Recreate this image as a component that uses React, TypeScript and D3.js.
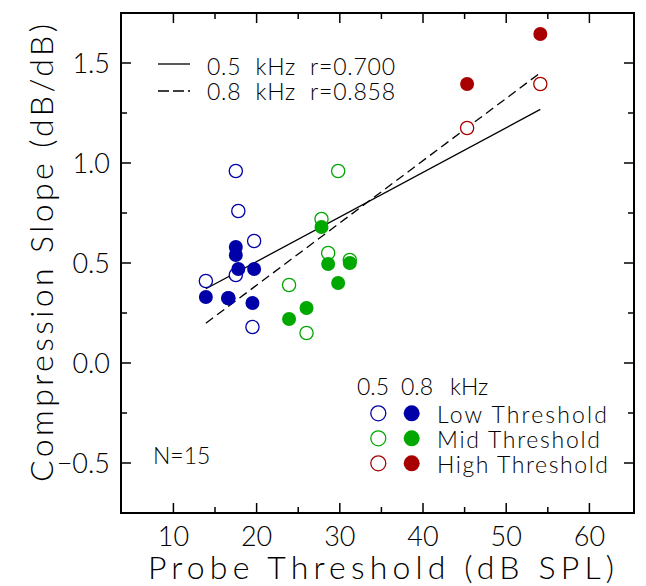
import React from "react";
import * as d3 from "d3";

// ---- data ----
const xTicks = [10, 20, 30, 40, 50, 60];
const xMinor = [15, 25, 35, 45, 55];
const yTicks = [-0.5, 0, 0.5, 1.0, 1.5];
const yMinor = [-0.25, 0.25, 0.75, 1.25];

// Low threshold group: probe threshold, slope at 0.5 kHz, slope at 0.8 kHz
const lowX = [13.9, 16.6, 17.5, 17.5, 17.8, 19.5, 19.7];
const low05 = [0.41, 0.324, 0.96, 0.44, 0.76, 0.18, 0.61];
const low08 = [0.33, 0.324, 0.58, 0.54, 0.47, 0.30, 0.47];

const midX = [23.9, 26.0, 27.8, 28.6, 29.8, 31.2];
const mid05 = [0.39, 0.15, 0.72, 0.55, 0.96, 0.515];
const mid08 = [0.22, 0.275, 0.68, 0.495, 0.40, 0.50];

const highX = [45.3, 54.1];
const high05 = [1.175, 1.395];
const high08 = [1.395, 1.645];

// regression lines (endpoints)
const fitX = [13.9, 54.1];
const fit05 = [0.371, 1.268];
const fit08 = [0.199, 1.451];

const legendLines = ["0.5  kHz  r=0.700", "0.8  kHz  r=0.858"];
const groupNames = ["Low Threshold", "Mid Threshold", "High Threshold"];
const groupTextLen = [170, 163, 171];
const groupColors = ["#0000a8", "#00a800", "#a80000"];

const W = 646;
const H = 586;
const FONT = "Lato, 'DejaVu Sans', sans-serif";

export default function App() {
  const left = 121, right = 634, top = 13, bottom = 513;
  const x = d3.scaleLinear().domain([3.7, 65.36]).range([left, right]);
  const y = d3.scaleLinear().domain([-0.75, 1.75]).range([bottom, top]);
  const line = d3
    .line<[number, number]>()
    .x((d) => x(d[0]))
    .y((d) => y(d[1]));

  const groups = [
    { xs: lowX, a: low05, b: low08, c: groupColors[0] },
    { xs: midX, a: mid05, b: mid08, c: groupColors[1] },
    { xs: highX, a: high05, b: high08, c: groupColors[2] },
  ];
  const r = 6.6;
  const majorLen = 10, minorLen = 6;

  return (
    <svg width={W} height={H} style={{ position: "absolute", left: 0, top: 0, background: "#fff" }}
      fontFamily={FONT}>
      <rect x={0} y={0} width={W} height={H} fill="#fff" />
      {/* ticks */}
      {xTicks.map((t) => (
        <g key={"xt" + t}>
          <line x1={x(t)} x2={x(t)} y1={bottom} y2={bottom - majorLen} stroke="#000" strokeWidth={1.5} />
          <line x1={x(t)} x2={x(t)} y1={top} y2={top + majorLen} stroke="#000" strokeWidth={1.5} />
          <text x={x(t)} y={546} fontSize={27} textAnchor="middle" fontWeight={300}>{t}</text>
        </g>
      ))}
      {xMinor.map((t) => (
        <g key={"xm" + t}>
          <line x1={x(t)} x2={x(t)} y1={bottom} y2={bottom - minorLen} stroke="#000" strokeWidth={1.5} />
          <line x1={x(t)} x2={x(t)} y1={top} y2={top + minorLen} stroke="#000" strokeWidth={1.5} />
        </g>
      ))}
      {yTicks.map((t) => (
        <g key={"yt" + t}>
          <line x1={left} x2={left + majorLen} y1={y(t)} y2={y(t)} stroke="#000" strokeWidth={1.5} />
          <line x1={right} x2={right - majorLen} y1={y(t)} y2={y(t)} stroke="#000" strokeWidth={1.5} />
          <text x={110} y={y(t) + 10} fontSize={27} textAnchor="end" fontWeight={300}>
            {t < 0 ? "\u2212" + Math.abs(t).toFixed(1) : t.toFixed(1)}
          </text>
        </g>
      ))}
      {yMinor.map((t) => (
        <g key={"ym" + t}>
          <line x1={left} x2={left + minorLen} y1={y(t)} y2={y(t)} stroke="#000" strokeWidth={1.5} />
          <line x1={right} x2={right - minorLen} y1={y(t)} y2={y(t)} stroke="#000" strokeWidth={1.5} />
        </g>
      ))}
      {/* frame */}
      <rect x={left} y={top} width={right - left} height={bottom - top} fill="none" stroke="#000" strokeWidth={2} />

      {/* regression lines */}
      <path d={line(fitX.map((v, i) => [v, fit05[i]] as [number, number])) || ""} fill="none" stroke="#000" strokeWidth={1.3} />
      <path d={line(fitX.map((v, i) => [v, fit08[i]] as [number, number])) || ""} fill="none" stroke="#000" strokeWidth={1.3} strokeDasharray="9,5" />

      {/* points: open (0.5 kHz) first, filled (0.8 kHz) on top */}
      {groups.map((g, gi) => (
        <g key={"o" + gi}>
          {g.xs.map((v, i) => (
            <circle key={i} cx={x(v)} cy={y(g.a[i])} r={r} fill="#fff" stroke={g.c} strokeWidth={1.3} />
          ))}
        </g>
      ))}
      {groups.map((g, gi) => (
        <g key={"f" + gi}>
          {g.xs.map((v, i) => (
            <circle key={i} cx={x(v)} cy={y(g.b[i])} r={r + 0.4} fill={g.c} />
          ))}
        </g>
      ))}

      {/* top-left legend */}
      <line x1={158} x2={190} y1={64} y2={64} stroke="#000" strokeWidth={1.3} />
      <line x1={158} x2={190} y1={91} y2={91} stroke="#000" strokeWidth={1.3} strokeDasharray="11,4" />
      <text x={207} y={75} fontSize={23} fontWeight={300} textLength={188} lengthAdjust="spacing" style={{ whiteSpace: "pre" }}>{legendLines[0]}</text>
      <text x={207} y={100} fontSize={23} fontWeight={300} textLength={188} lengthAdjust="spacing" style={{ whiteSpace: "pre" }}>{legendLines[1]}</text>

      {/* bottom-right legend */}
      <text x={357} y={395} fontSize={23} fontWeight={300}>0.5</text>
      <text x={401} y={395} fontSize={23} fontWeight={300}>0.8</text>
      <text x={450} y={395} fontSize={23} fontWeight={300}>kHz</text>
      {groupNames.map((n, i) => (
        <g key={n}>
          <circle cx={378.3} cy={413.3 + 25 * i} r={7.5} fill="#fff" stroke={groupColors[i]} strokeWidth={1.3} />
          <circle cx={411.7} cy={413.3 + 25 * i} r={8} fill={groupColors[i]} />
          <text x={437} y={422.5 + 25 * i} fontSize={23} fontWeight={300} textLength={groupTextLen[i]} lengthAdjust="spacing">{n}</text>
        </g>
      ))}

      <text x={153} y={464} fontSize={23} fontWeight={300}>N=15</text>

      {/* axis titles */}
      <text x={381} y={579} fontSize={32} textAnchor="middle" fontWeight={300} textLength={466} lengthAdjust="spacing">Probe Threshold (dB SPL)</text>
      <text transform="translate(53,253) rotate(-90)" fontSize={32} textAnchor="middle" fontWeight={300} textLength={458} lengthAdjust="spacing">Compression Slope (dB/dB)</text>
    </svg>
  );
}
